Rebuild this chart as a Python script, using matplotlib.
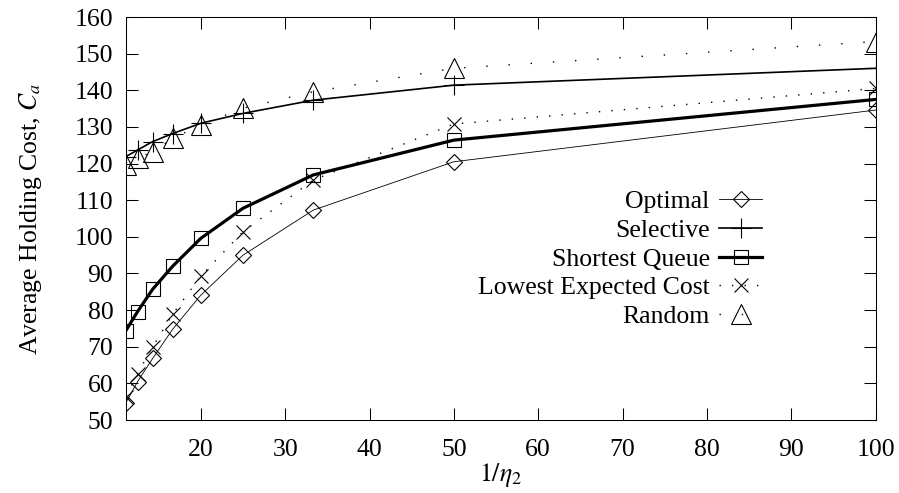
import matplotlib
matplotlib.use("Agg")
import matplotlib.pyplot as plt

plt.rcParams['font.family'] = ['Liberation Serif', 'DejaVu Serif']
plt.rcParams['mathtext.fontset'] = 'stix'
plt.rcParams['font.size'] = 18.5

# 1/eta_2 values (eta_2 = 0.09 ... 0.01)
eta2 = [0.09, 0.08, 0.07, 0.06, 0.05, 0.04, 0.03, 0.02, 0.01]
inv_eta2 = [1.0 / e for e in eta2]

# average holding cost for each policy
optimal = [54.7, 60.5, 66.8, 74.8, 84.1, 95.0, 107.3, 120.5, 134.6]
selective = [121.9, 123.7, 126.0, 128.2, 131.0, 133.7, 137.3, 141.4, 146.0]
shortest_queue = [74.4, 79.6, 85.7, 92.0, 99.6, 107.8, 116.9, 126.4, 137.5]
lowest_cost = [56.4, 62.7, 70.0, 78.9, 89.3, 101.4, 115.5, 130.8, 140.5]
random_pol = [119.6, 121.4, 123.2, 126.9, 130.5, 135.1, 139.6, 146.0, 153.3]

xticks = [20, 30, 40, 50, 60, 70, 80, 90, 100]
yticks = [50, 60, 70, 80, 90, 100, 110, 120, 130, 140, 150, 160]

fig = plt.figure(figsize=(8.99, 4.93), dpi=100)
ax = fig.add_axes([0.140, 0.148, 0.834, 0.8175])

mew = 0.8
ax.plot(inv_eta2, optimal, color='k', lw=0.6, marker='D', ms=8.5,
        mfc='none', mec='k', mew=mew, label='Optimal')
ax.plot(inv_eta2, selective, color='k', lw=1.2, marker='+', ms=14,
        mec='k', mew=mew, label='Selective')
ax.plot(inv_eta2, shortest_queue, color='k', lw=2.3, marker='s', ms=10,
        mfc='none', mec='k', mew=mew, label='Shortest Queue')
ax.plot(inv_eta2, lowest_cost, color='k', lw=1.0, ls=(0, (1, 8)), marker='x',
        ms=9.5, mec='k', mew=mew, label='Lowest Expected Cost')
ax.plot(inv_eta2, random_pol, color='k', lw=1.0, ls=(0, (1, 15)), marker='^',
        ms=14, mfc='none', mec='k', mew=mew, label='Random')

ax.set_xlim(inv_eta2[0], 100)
ax.set_ylim(50, 160)
ax.set_xticks(xticks)
ax.set_yticks(yticks)
ax.tick_params(direction='in', length=8.6, width=0.75, top=True, right=True)
ax.tick_params(axis='x', pad=14)
ax.tick_params(axis='y', pad=9)
for s in ax.spines.values():
    s.set_linewidth(0.75)

ax.set_xlabel(r'$1/\eta_2$', labelpad=0)
ax.set_ylabel(r'Average Holding Cost, $C_a$', labelpad=22)

ax.legend(loc='upper right', bbox_to_anchor=(0.849, 0.57), frameon=False,
          markerfirst=False, handlelength=1.7, handletextpad=0.35,
          labelspacing=0.22, borderpad=0, borderaxespad=0)

fig.savefig('out.png', dpi=100)
